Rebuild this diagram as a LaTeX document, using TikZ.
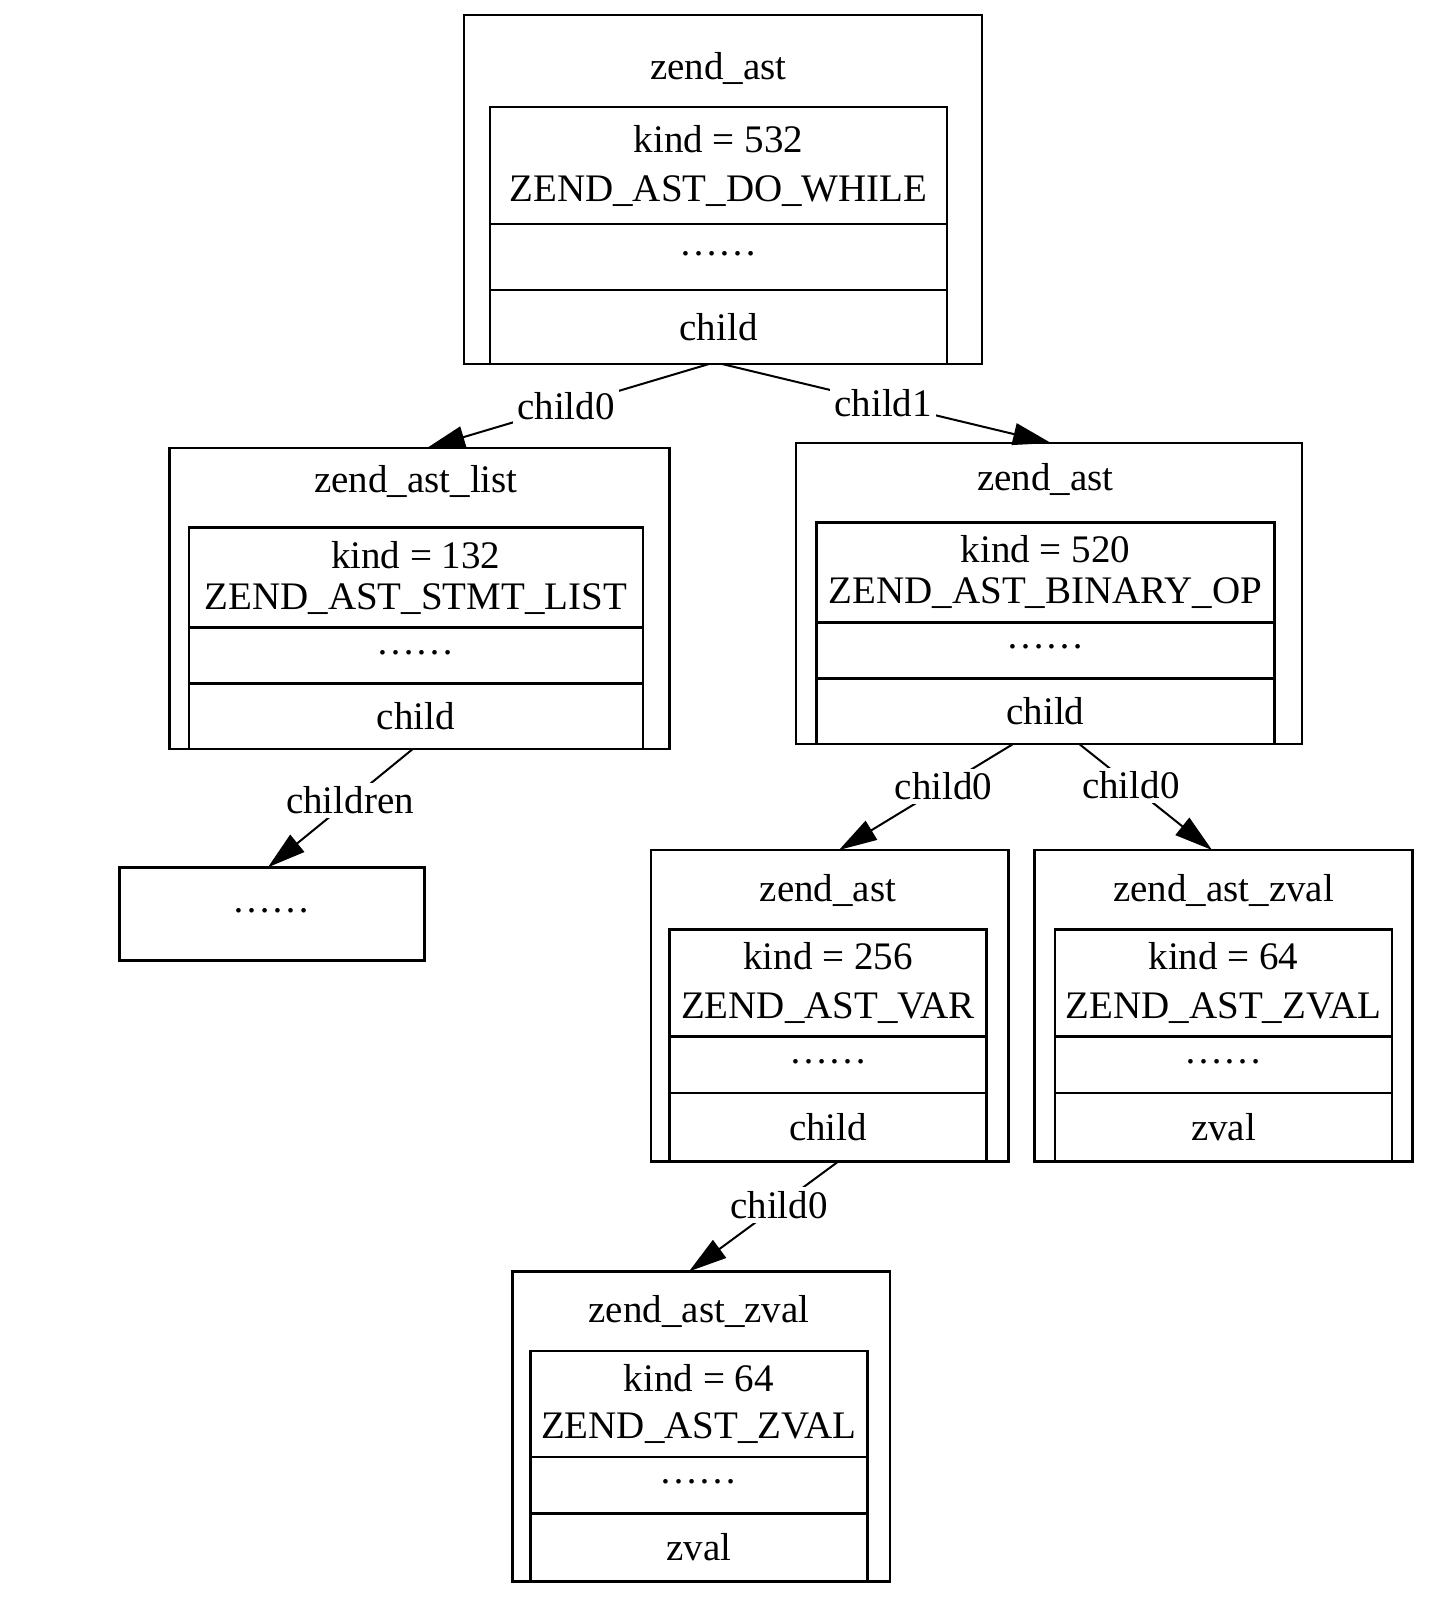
\documentclass[tikz,border=0pt]{standalone}
\usepackage{fontspec}
\setmainfont{Liberation Serif}
\usetikzlibrary{positioning,arrows.meta}
\tikzstyle{arrow} = [line width=1pt, -{Triangle[length=19pt,width=11pt]}]

\begin{document}
\begin{tikzpicture}[
		x=0.5pt, y=-0.5pt,
		font=\fontsize{19.5pt}{24.5pt}\selectfont,
		outer/.style={
				rectangle,
				draw=black,
				line width=1.3pt,
				anchor=north west,
				inner sep=0pt,
				outer sep=0pt,
			},
		row/.style={
				rectangle,
				draw=black,
				line width=1.3pt,
				minimum width=#1,
				inner sep=0pt,
				outer sep=0pt,
				align=center,
			},
		dotsrow/.style={row=#1, text depth=0.35em},
		lbl/.style={fill=white, inner sep=2pt},
	]

	\useasboundingbox (0,0) rectangle (1448,1600);

	% zend_ast (do while)
	\node[outer, minimum width=259pt, minimum height=174.5pt] (dowhile) at (464,15) {};
	\node (dowhiletitle) at (718.5,68) {zend\_ast};
	\node[row=228.5pt, minimum height=58.5pt, anchor=north west] (dowhilekind) at (490,107)
	{kind = 532\\ZEND\_AST\_DO\_WHILE};
	\node[dotsrow=228.5pt, minimum height=33pt, below=0pt of dowhilekind] (dowhiledots) {……};
	\node[row=228.5pt, minimum height=37pt, below=0pt of dowhiledots] (dowhilechild) {child};

	% zend_ast_list (statement list)
	\node[outer, minimum width=250pt, minimum height=150.5pt] (stmtlist) at (169.4,448) {};
	\node (stmtlisttitle) at (415.9,481.6) {zend\_ast\_list};
	\node[row=227pt, minimum height=50pt, anchor=north west] (stmtlistkind) at (188.8,527.6)
	{kind = 132\\[-4pt]ZEND\_AST\_STMT\_LIST};
	\node[dotsrow=227pt, minimum height=28pt, below=0pt of stmtlistkind] (stmtlistdots) {……};
	\node[row=227pt, minimum height=32.7pt, below=0pt of stmtlistdots] (stmtlistchild) {child};

	% zend_ast (binary op)
	\node[outer, minimum width=253pt, minimum height=150.5pt] (binop) at (796,443) {};
	\node (binoptitle) at (1045.4,479.6) {zend\_ast};
	\node[row=229.1pt, minimum height=50pt, anchor=north west] (binopkind) at (816.3,522.4)
	{kind = 520\\[-4pt]ZEND\_AST\_BINARY\_OP};
	\node[dotsrow=229.1pt, minimum height=28pt, below=0pt of binopkind] (binopdots) {……};
	\node[row=229.1pt, minimum height=32.7pt, below=0pt of binopdots] (binopchild) {child};

	% children of the list
	\node[outer, minimum width=152.5pt, minimum height=46.5pt, text depth=0.35em] (more) at (119.4,867.3) {……};

	% zend_ast (var)
	\node[outer, minimum width=178.6pt, minimum height=155.6pt] (var) at (651,850) {};
	\node (vartitle) at (828,890.8) {zend\_ast};
	\node[row=158.6pt, minimum height=53.5pt, anchor=north west] (varkind) at (669.4,929.6)
	{kind = 256\\ZEND\_AST\_VAR};
	\node[dotsrow=158.6pt, minimum height=28.1pt, below=0pt of varkind] (vardots) {……};
	\node[row=158.6pt, minimum height=34.1pt, below=0pt of vardots] (varchild) {child};

	% zend_ast_zval (right operand)
	\node[outer, minimum width=188.8pt, minimum height=155.6pt] (zval) at (1034.7,850) {};
	\node (zvaltitle) at (1223.5,890.8) {zend\_ast\_zval};
	\node[row=168.4pt, minimum height=53.5pt, anchor=north west] (zvalkind) at (1055.1,929.6)
	{kind = 64\\ZEND\_AST\_ZVAL};
	\node[dotsrow=168.4pt, minimum height=28.1pt, below=0pt of zvalkind] (zvaldots) {……};
	\node[row=168.4pt, minimum height=34.1pt, below=0pt of zvaldots] (zvalval) {zval};

	% zend_ast_zval (var name)
	\node[outer, minimum width=188.8pt, minimum height=155.1pt] (varzval) at (512.2,1271.4) {};
	\node (varzvaltitle) at (699,1311.2) {zend\_ast\_zval};
	\node[row=168.3pt, minimum height=53pt, anchor=north west] (varzvalkind) at (530.6,1351)
	{kind = 64\\[-1pt]ZEND\_AST\_ZVAL};
	\node[dotsrow=168.3pt, minimum height=28.1pt, below=0pt of varzvalkind] (varzvaldots) {……};
	\node[row=168.3pt, minimum height=34.1pt, below=0pt of varzvaldots] (varzvalval) {zval};

	% Connections
	\draw[arrow] ([xshift=-4.75pt]dowhilechild.south) -- node[lbl, pos=0.507]{child0} ([xshift=3.8pt]stmtlist.north);
	\draw[arrow] ([xshift=1.75pt]dowhilechild.south) -- node[lbl, pos=0.49]{child1} ([xshift=1pt]binop.north);
	\draw[arrow] ([xshift=-1.5pt]stmtlistchild.south) -- node[lbl, pos=0.434]{children} ([xshift=-2pt]more.north);
	\draw[arrow] ([xshift=-16pt]binopchild.south) -- node[lbl, pos=0.4]{child0} ([xshift=4.7pt]var.north);
	\draw[arrow] ([xshift=16.8pt]binopchild.south) -- node[lbl, pos=0.39]{child0} ([xshift=-5.75pt]zval.north);
	\draw[arrow] ([xshift=5.5pt]varchild.south) -- node[lbl, pos=0.4]{child0} ([xshift=-6pt]varzval.north);

\end{tikzpicture}
\end{document}
